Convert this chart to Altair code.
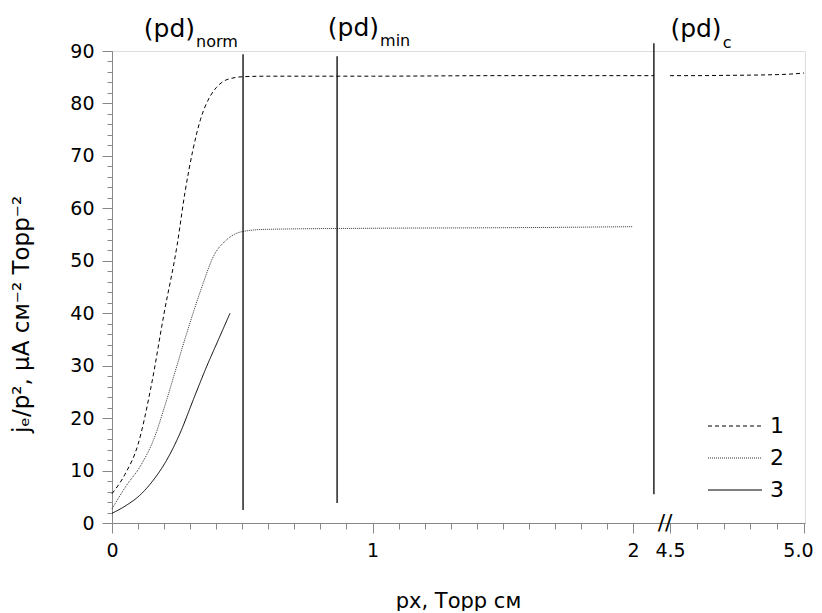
import altair as alt
import pandas as pd

# ---------------- data ----------------
# curve 1 (dashed), left part of the broken axis and right part
x1 = [0.0, 0.05, 0.10, 0.15, 0.20, 0.25, 0.28, 0.31, 0.34, 0.376, 0.40, 0.427, 0.46, 0.504, 0.6, 0.8, 1.0, 1.5, 2.0, 2.08]
y1 = [5.6, 9.3, 15.0, 26.0, 40.0, 53.0, 63.0, 71.0, 77.0, 81.3, 83.0, 84.2, 84.8, 85.1, 85.2, 85.2, 85.2, 85.3, 85.3, 85.3]
x1r = [4.5, 4.6, 4.7, 4.8, 4.9, 4.95, 5.0]
y1r = [85.3, 85.3, 85.35, 85.4, 85.5, 85.6, 85.8]
# curve 2 (dotted)
x2 = [0.0, 0.056, 0.107, 0.159, 0.21, 0.248, 0.287, 0.319, 0.345, 0.389, 0.44, 0.504, 0.594, 1.0, 1.5, 2.0]
y2 = [2.7, 7.2, 10.7, 15.8, 23.5, 29.8, 36.2, 41.2, 45.0, 50.8, 54.0, 55.6, 56.0, 56.2, 56.3, 56.5]
# curve 3 (solid)
x3 = [0.0, 0.056, 0.107, 0.159, 0.21, 0.261, 0.312, 0.363, 0.408, 0.453]
y3 = [1.85, 3.4, 5.3, 8.2, 12.0, 17.1, 23.5, 29.8, 34.9, 40.0]

# vertical marker lines (pd)_norm, (pd)_min, (pd)_c
vl_x = [0.503, 0.864, 2.08]
vl_y1 = [2.5, 3.8, 5.5]
vl_y2 = [89.4, 89.0, 91.5]
sub_text = ["norm", "min", "c"]
lab_x = [0.3186, 1.025, 2.340]     # where "(pd)" ends / subscript starts
lab_y = [92.7, 92.8, 92.7]
sub_y = [90.8, 90.9, 90.5]

# broken x axis: 0..2.1 then 4.5..5.0
left_ticks = [round(i * 0.1, 1) for i in range(0, 21)]
left_major = [0, 1, 2]
right_ticks = [4.5, 4.6, 4.7, 4.8, 4.9, 5.0]
right_major = [4.5]
right_labels = ["4.5"]
last_major = 5.0
last_label = "5.0"
y_major = list(range(0, 91, 10))
y_minor = list(range(0, 91, 2))
R0, RS = 2.142, 1.028          # display position of 4.5 and scale of right part
BREAK_POS = 2.123

FONT = "DejaVu Sans"

def to_u(v):
    return v if v <= 3 else R0 + (v - 4.5) * RS

# ---------------- tables ----------------
rows = []
for xs, ys, s, seg in [(x1, y1, "1", "1a"), (x1r, y1r, "1", "1b"), (x2, y2, "2", "2"), (x3, y3, "3", "3")]:
    for a, b in zip(xs, ys):
        rows.append({"x": a, "y": b, "series": s, "seg": seg})
curves = pd.DataFrame(rows)

vlines = pd.DataFrame({"x": vl_x, "y1": vl_y1, "y2": vl_y2})
labels = pd.DataFrame({"u": lab_x, "y": lab_y, "sy": sub_y, "main": ["(pd)"] * 3, "sub": sub_text})
brk = pd.DataFrame({"u": [BREAK_POS], "y": [0], "t": ["//"]})

x_minor_u = [to_u(v) for v in left_ticks] + [to_u(v) for v in right_ticks]
major_u = [float(v) for v in left_major] + [to_u(v) for v in right_major]
major_lab = [str(v) for v in left_major] + right_labels
label_expr = " : ".join(f"abs(datum.value - {u:.6f}) < 0.0001 ? '{l}'" for u, l in zip(major_u, major_lab)) + " : ''"
last_u = to_u(last_major)

u_calc = f"datum.x <= 3 ? datum.x : {R0} + (datum.x - 4.5) * {RS}"

xscale = alt.Scale(domain=[0, 2.66], nice=False, zero=False)
yscale = alt.Scale(domain=[0, 90], nice=False)

x_major_axis = alt.Axis(
    orient="bottom", values=major_u, labelExpr=label_expr, tickSize=10,
    labelPadding=8, labelFontSize=19, labelFont=FONT, labelFlush=False, labelOverlap=False,
    title="px, Торр см", titleFontSize=21, titleFont=FONT, titleFontWeight="normal",
    titleX=346, titleY=84, titleBaseline="alphabetic", titleAlign="center",
    grid=False,
)
x_last_axis = alt.Axis(
    orient="bottom", values=[last_u], labelExpr=f"'{last_label}'", tickSize=10, domain=False,
    labelOffset=-6, labelPadding=8, labelFontSize=19, labelFont=FONT, labelFlush=False,
    labelOverlap=False, title=None, grid=False,
)
y_major_axis = alt.Axis(
    orient="left", values=y_major, tickSize=10,
    labelPadding=8, labelFontSize=19, labelFont=FONT, labelOverlap=False,
    title="jₑ/p², μA см⁻² Торр⁻²", titleFontSize=23, titleFont=FONT, titleFontWeight="normal",
    titleX=-84, titleY=263, titleAngle=270, titleBaseline="alphabetic", titleAlign="center",
    grid=False,
)
x_minor_axis = alt.Axis(orient="bottom", values=x_minor_u, tickSize=6, labels=False, domain=False,
                        title=None, grid=False)
y_minor_axis = alt.Axis(orient="left", values=y_minor, tickSize=5, labels=False, domain=False,
                        title=None, grid=False)

leg = alt.Legend(title=None, orient="none", legendX=609, legendY=361, symbolType="M-2,0H2",
                 symbolSize=729, symbolStrokeWidth=1, labelFontSize=22, labelFont=FONT,
                 rowPadding=7, labelOffset=21, padding=0)

lines = alt.Chart(curves).transform_calculate(u=u_calc).mark_line(strokeWidth=1, interpolate="monotone").encode(
    x=alt.X("u:Q", scale=xscale, axis=x_major_axis),
    y=alt.Y("y:Q", scale=yscale, axis=y_major_axis),
    detail="seg:N",
    strokeDash=alt.StrokeDash("series:N", scale=alt.Scale(domain=["1", "2", "3"], range=[[4, 3], [1, 1], [1, 0]]), legend=leg),
    color=alt.Color("series:N", scale=alt.Scale(domain=["1", "2", "3"], range=["#000000", "#333333", "#000000"]), legend=leg),
)

rules = alt.Chart(vlines).transform_calculate(u=u_calc).mark_rule(color="black", strokeWidth=1.3).encode(
    x=alt.X("u:Q", scale=xscale, axis=x_minor_axis),
    y=alt.Y("y1:Q", scale=yscale, axis=y_minor_axis),
    y2="y2:Q",
)

main_txt = alt.Chart(labels).mark_text(align="right", baseline="alphabetic", fontSize=25, font=FONT, color="black").encode(
    x=alt.X("u:Q", scale=xscale, axis=None), y=alt.Y("y:Q", scale=yscale, axis=None), text="main:N"
)
sub_txt = alt.Chart(labels).mark_text(align="left", baseline="alphabetic", fontSize=16, font=FONT, color="black", dx=1).encode(
    x=alt.X("u:Q", scale=xscale, axis=None), y=alt.Y("sy:Q", scale=yscale, axis=None), text="sub:N"
)
brk_txt = alt.Chart(brk).mark_text(align="center", baseline="middle", fontSize=22, font=FONT, color="black").encode(
    x=alt.X("u:Q", scale=xscale, axis=x_last_axis), y=alt.Y("y:Q", scale=yscale, axis=None), text="t:N"
)

chart = alt.layer(lines, rules, main_txt, sub_txt, brk_txt).resolve_scale(
    x="independent", y="independent"
).properties(
    width=693, height=472,
    autosize=alt.AutoSizeParams(type="none"),
    padding={"left": 104, "top": 43, "right": 9, "bottom": 88},
).configure_view(stroke=None).configure_axis(
    domainColor="black", domainWidth=1.5, tickColor="black", tickWidth=1.5,
    labelColor="black", titleColor="black", labelOverlap=False,
).configure(font=FONT)

chart.save("out.html", embed_options={"renderer": "svg", "actions": False})
